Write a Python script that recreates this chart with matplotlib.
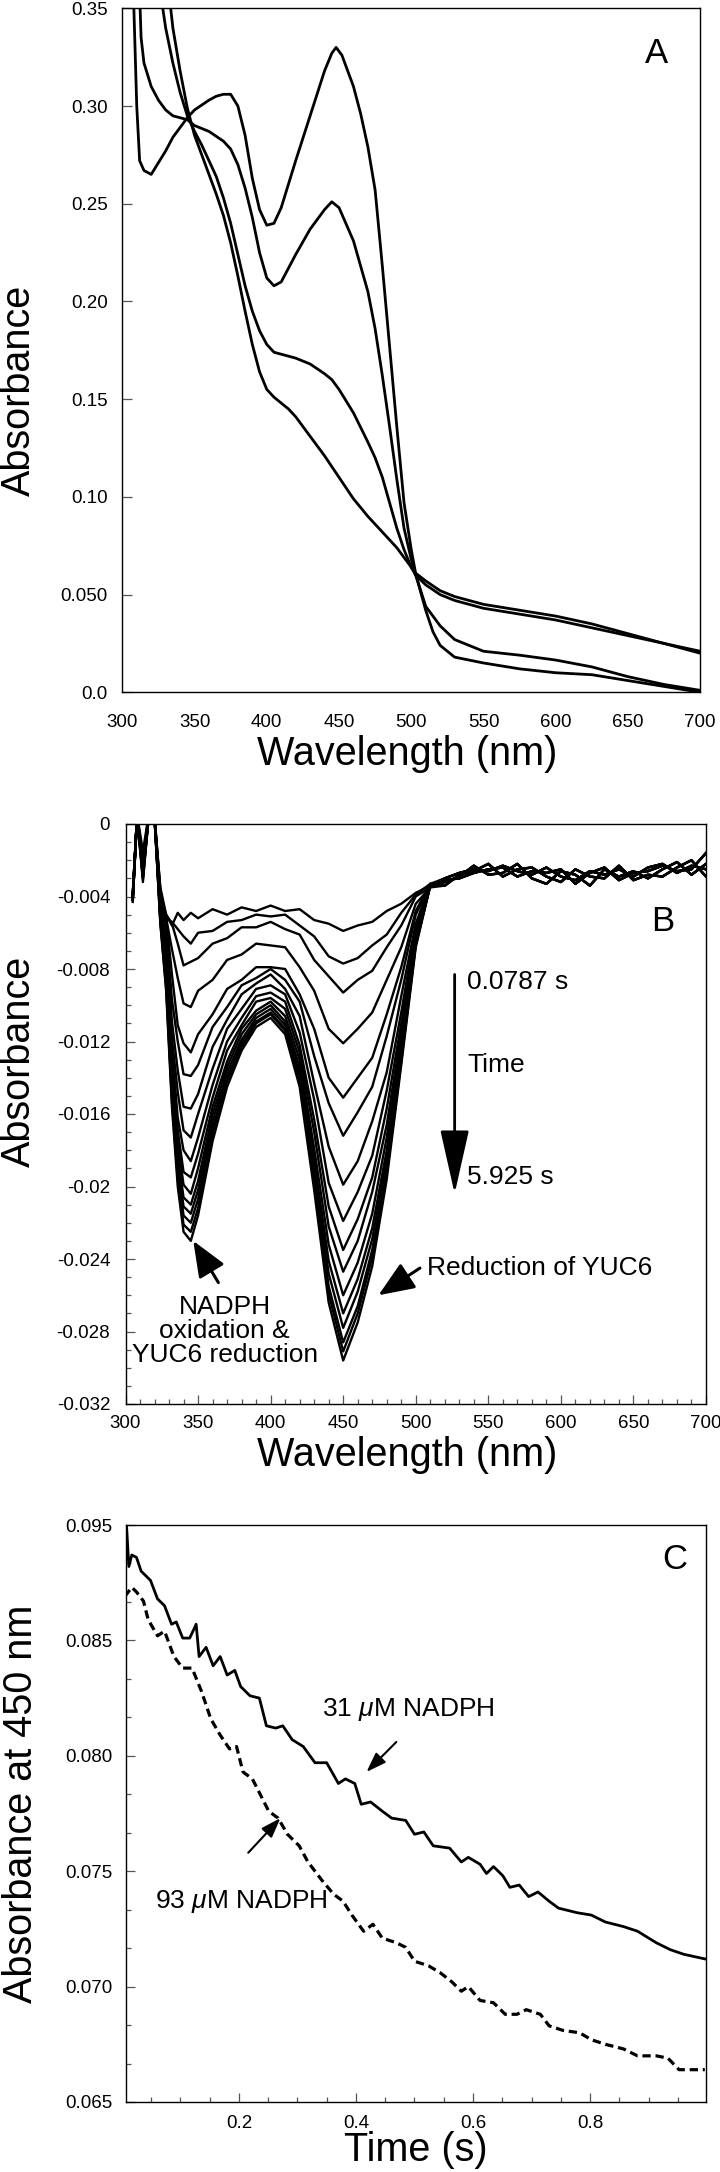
import numpy as np
import matplotlib.pyplot as plt
from matplotlib.ticker import MultipleLocator, FixedLocator, FixedFormatter, AutoMinorLocator, FuncFormatter

plt.rcParams['font.family'] = ['Liberation Sans', 'DejaVu Sans']
plt.rcParams['mathtext.fontset'] = 'custom'
plt.rcParams['mathtext.rm'] = 'Liberation Sans'
plt.rcParams['mathtext.it'] = 'Liberation Sans:italic'
plt.rcParams['axes.unicode_minus'] = False

# ---- panel A: static spectra (absorbance vs wavelength) ----
wl_a1 = [305, 308, 310, 312, 315, 320, 325, 330, 335, 340, 345, 350, 360, 365, 370, 375, 380, 385, 390, 395,
         400, 405, 410, 420, 430, 440, 445, 448, 452, 460, 465, 470, 475, 480, 485, 490, 495, 500, 503, 507,
         510, 515, 520, 530, 550, 575, 600, 625, 650, 675, 700]
abs_a1 = [0.45, 0.35, 0.300, 0.272, 0.267, 0.265, 0.271, 0.277, 0.284, 0.289, 0.294, 0.298, 0.303, 0.305, 0.306,
          0.306, 0.300, 0.285, 0.263, 0.247, 0.239, 0.240, 0.248, 0.272, 0.295, 0.318, 0.327, 0.330, 0.326, 0.310,
          0.296, 0.279, 0.257, 0.218, 0.177, 0.136, 0.097, 0.073, 0.061, 0.050, 0.042, 0.031, 0.024, 0.018, 0.015,
          0.012, 0.010, 0.009, 0.006, 0.003, 0.000]

wl_a2 = [311, 313, 315, 320, 325, 330, 335, 340, 345, 350, 360, 370, 375, 380, 385, 390, 395, 400, 405, 410,
         420, 430, 440, 445, 450, 460, 470, 475, 480, 485, 490, 495, 500, 503, 507, 510, 520, 530, 550, 575,
         600, 625, 650, 675, 700]
abs_a2 = [0.38, 0.335, 0.322, 0.310, 0.303, 0.298, 0.295, 0.294, 0.293, 0.290, 0.287, 0.282, 0.278, 0.270, 0.258,
          0.243, 0.225, 0.212, 0.208, 0.210, 0.224, 0.237, 0.247, 0.251, 0.248, 0.231, 0.205, 0.186, 0.162, 0.136,
          0.109, 0.084, 0.068, 0.060, 0.051, 0.044, 0.034, 0.027, 0.021, 0.019, 0.0165, 0.013, 0.008, 0.004, 0.001]

wl_a3 = [326, 330, 335, 340, 345, 350, 355, 360, 365, 370, 375, 380, 385, 390, 395, 400, 405, 410, 415, 420,
         430, 440, 445, 450, 460, 470, 475, 480, 485, 490, 495, 500, 503, 510, 520, 530, 550, 575, 600, 625,
         650, 675, 700]
abs_a3 = [0.36, 0.340, 0.322, 0.307, 0.295, 0.287, 0.280, 0.272, 0.264, 0.253, 0.240, 0.224, 0.208, 0.195, 0.185,
          0.178, 0.174, 0.173, 0.172, 0.171, 0.168, 0.163, 0.160, 0.155, 0.143, 0.128, 0.120, 0.110, 0.097, 0.084,
          0.073, 0.064, 0.060, 0.055, 0.050, 0.047, 0.043, 0.040, 0.037, 0.033, 0.029, 0.025, 0.021]

wl_a4 = [332, 335, 340, 345, 350, 355, 360, 365, 370, 375, 380, 385, 390, 395, 400, 405, 410, 415, 420, 430,
         440, 450, 460, 470, 480, 490, 500, 503, 510, 520, 530, 550, 575, 600, 625, 650, 675, 700]
abs_a4 = [0.36, 0.340, 0.318, 0.299, 0.285, 0.275, 0.265, 0.255, 0.244, 0.230, 0.213, 0.195, 0.178, 0.164, 0.155,
          0.151, 0.148, 0.145, 0.141, 0.131, 0.121, 0.110, 0.099, 0.090, 0.082, 0.074, 0.064, 0.061, 0.057, 0.052,
          0.049, 0.045, 0.042, 0.039, 0.035, 0.030, 0.025, 0.020]

a_yticks = [0.0, 0.05, 0.10, 0.15, 0.20, 0.25, 0.30, 0.35]
a_ylabels = ['0.0', '0.050', '0.10', '0.15', '0.20', '0.25', '0.30', '0.35']

# ---- panel B: difference spectra, 0.0787 s -> 5.925 s (values in milli-absorbance) ----
wl_b = [305, 308, 312, 316, 320, 324, 328, 332, 336, 340, 345, 350, 360, 370, 380, 390, 400, 410, 420, 430,
        440, 450, 460, 470, 480, 490, 500, 510]
wl_b_tail = [520, 530, 540, 550, 560, 570, 580, 590, 600, 610, 620, 630, 640, 650, 660, 670, 680, 690, 700]

b_traces = [
    [-4.1, 0.5, -2.0, 0.5, 0.3, -3.5, -5.0, -5.6, -4.9, -5.3, -4.9, -5.2, -4.7, -5.0, -4.6, -4.8, -4.5, -4.8, -4.7, -5.3, -5.5, -5.9, -5.6, -5.4, -4.8, -4.4, -3.8, -3.4],
    [-4.0, 0.5, -3.0, 0.4, 0.5, -3.8, -5.2, -5.4, -5.8, -6.2, -6.6, -6.0, -5.9, -5.4, -5.3, -5.0, -5.1, -5.0, -5.6, -6.2, -7.3, -7.7, -7.4, -6.7, -6.1, -4.9, -3.9, -3.3],
    [-3.8, 0.5, -1.5, 0.5, 0.2, -4.0, -5.0, -5.5, -6.6, -7.8, -7.6, -7.4, -6.6, -6.3, -5.7, -5.7, -5.4, -5.8, -6.1, -7.5, -8.4, -9.3, -8.6, -8.1, -6.8, -5.6, -4.0, -3.5],
    [-4.2, 0.3, -2.5, 0.5, 0.4, -3.6, -5.2, -6.9, -8.5, -9.9, -10.1, -9.2, -8.6, -7.5, -7.2, -6.6, -6.7, -6.8, -7.9, -9.2, -11.3, -12.1, -11.3, -10.4, -8.6, -6.8, -4.4, -3.5],
    [-4.0, 0.5, -3.2, 0.5, 0.3, -3.9, -5.1, -8.3, -11.1, -12.1, -12.6, -11.6, -10.5, -9.1, -8.6, -7.9, -7.9, -8.0, -9.4, -11.3, -14.0, -15.1, -14.0, -12.9, -10.5, -7.9, -4.8, -3.3],
    [-4.3, 0.4, -2.2, 0.4, 0.5, -4.2, -5.6, -9.7, -12.0, -13.8, -13.9, -13.3, -11.2, -10.1, -8.9, -8.5, -8.0, -8.6, -9.8, -12.8, -15.4, -17.2, -15.9, -14.5, -11.7, -8.6, -5.0, -3.4],
    [-3.9, 0.5, -2.8, 0.3, 0.4, -4.4, -6.3, -10.9, -13.6, -15.6, -15.7, -14.9, -12.3, -10.8, -9.4, -8.8, -8.3, -9.1, -10.6, -14.3, -17.8, -19.9, -18.6, -16.4, -13.7, -9.5, -5.5, -3.3],
    [-4.1, 0.5, -2.0, 0.5, 0.3, -4.5, -6.9, -11.8, -14.8, -16.9, -17.3, -16.0, -13.5, -11.3, -10.2, -9.1, -8.9, -9.4, -11.5, -15.2, -19.8, -21.9, -20.3, -18.3, -14.7, -10.4, -5.7, -3.4],
    [-4.0, 0.3, -3.0, 0.5, 0.5, -4.6, -7.4, -12.4, -16.2, -18.0, -18.6, -17.3, -14.4, -12.0, -10.7, -9.5, -9.3, -9.8, -12.2, -16.3, -21.1, -23.5, -21.8, -19.5, -15.7, -11.0, -5.9, -3.4],
    [-4.2, 0.5, -2.4, 0.4, 0.3, -4.8, -7.8, -13.3, -16.9, -19.2, -19.5, -18.2, -15.1, -12.5, -11.1, -9.8, -9.6, -10.2, -12.6, -17.0, -22.2, -24.7, -23.0, -20.3, -16.6, -11.5, -6.1, -3.4],
    [-3.9, 0.4, -2.6, 0.5, 0.4, -5.0, -8.1, -13.9, -17.6, -19.9, -20.4, -19.0, -15.6, -13.1, -11.3, -10.3, -9.8, -10.6, -13.0, -17.9, -23.2, -26.0, -24.2, -21.5, -17.3, -11.9, -6.2, -3.4],
    [-4.1, 0.5, -2.2, 0.4, 0.5, -5.1, -8.4, -14.3, -18.3, -20.6, -21.0, -19.7, -16.0, -13.4, -11.6, -10.5, -10.0, -10.9, -13.4, -18.5, -24.1, -27.0, -25.1, -22.3, -18.0, -12.3, -6.4, -3.4],
    [-4.0, 0.5, -2.9, 0.5, 0.3, -5.2, -8.6, -14.6, -18.7, -21.1, -21.5, -20.2, -16.4, -13.7, -11.9, -10.7, -10.2, -11.1, -13.7, -19.0, -24.8, -27.8, -25.8, -22.9, -18.5, -12.6, -6.5, -3.4],
    [-4.2, 0.4, -2.3, 0.5, 0.5, -5.3, -8.8, -15.0, -19.1, -21.6, -22.0, -20.7, -16.8, -14.0, -12.1, -10.9, -10.4, -11.3, -14.0, -19.5, -25.5, -28.6, -26.6, -23.5, -19.0, -12.9, -6.6, -3.4],
    [-3.9, 0.5, -2.6, 0.5, 0.3, -5.4, -9.0, -15.3, -19.6, -22.1, -22.5, -21.2, -17.1, -14.2, -12.3, -11.0, -10.5, -11.4, -14.2, -19.8, -25.9, -29.1, -27.0, -23.9, -19.3, -13.1, -6.7, -3.4],
    [-4.1, 0.5, -2.1, 0.5, 0.4, -5.5, -9.2, -15.6, -20.0, -22.5, -23.0, -21.6, -17.5, -14.5, -12.5, -11.2, -10.7, -11.6, -14.5, -20.2, -26.4, -29.6, -27.5, -24.4, -19.6, -13.3, -6.8, -3.4],
]
b_tails = [
    [-3.0, -2.7, -2.5, -2.6, -2.3, -2.6, -2.8, -2.4, -2.9, -3.1, -2.6, -2.8, -2.5, -2.9, -2.4, -2.2, -2.7, -2.3, -2.5],
    [-3.2, -2.9, -2.3, -2.8, -2.7, -2.2, -3.0, -3.3, -2.6, -2.8, -3.4, -2.5, -2.9, -2.6, -3.0, -2.5, -2.1, -2.8, -2.2],
    [-3.4, -2.8, -2.6, -2.2, -2.9, -2.5, -2.4, -2.9, -3.2, -2.5, -2.9, -3.0, -2.3, -3.1, -2.8, -2.9, -2.4, -2.0, -2.9],
    [-3.1, -3.0, -2.7, -2.5, -2.4, -2.9, -2.6, -2.7, -2.5, -3.3, -2.7, -2.4, -3.1, -2.7, -2.6, -2.3, -2.6, -2.5, -1.6],
]

# ---- panel C: absorbance at 450 nm vs time ----
t_31 = [0.005, 0.008, 0.012, 0.017, 0.025, 0.033, 0.049, 0.061, 0.073, 0.085, 0.093,
        0.104, 0.116, 0.127, 0.132, 0.144, 0.156, 0.168, 0.180, 0.193, 0.203,
        0.219, 0.235, 0.247, 0.263, 0.275, 0.291, 0.310, 0.330, 0.350, 0.370,
        0.382, 0.398, 0.409, 0.425, 0.445, 0.461, 0.485, 0.500, 0.516, 0.532,
        0.560, 0.580, 0.592, 0.612, 0.623, 0.635, 0.651, 0.663, 0.679, 0.695,
        0.711, 0.730, 0.746, 0.778, 0.802, 0.826, 0.857, 0.881, 0.913, 0.937,
        0.960, 0.996]
a_31 = [0.0880, 0.0900, 0.0882, 0.0887, 0.0886, 0.0880, 0.0876, 0.0868, 0.0865, 0.0857, 0.0858,
        0.0851, 0.0851, 0.0857, 0.0843, 0.0847, 0.0839, 0.0843, 0.0835, 0.0837, 0.0830,
        0.0826, 0.0825, 0.0813, 0.0812, 0.0813, 0.0807, 0.0804, 0.0797, 0.0797, 0.0788,
        0.0790, 0.0788, 0.0779, 0.0780, 0.0776, 0.0773, 0.0772, 0.0766, 0.0767, 0.0761,
        0.0760, 0.0754, 0.0756, 0.0753, 0.0749, 0.0752, 0.0748, 0.0743, 0.0744, 0.0739,
        0.0741, 0.0737, 0.0734, 0.0732, 0.0731, 0.0728, 0.0726, 0.0724, 0.0719, 0.0716,
        0.0714, 0.0712]

t_93 = [0.005, 0.017, 0.025, 0.037, 0.045, 0.061, 0.073, 0.089, 0.104, 0.120,
        0.136, 0.152, 0.168, 0.184, 0.196, 0.207, 0.223, 0.235, 0.251, 0.267,
        0.283, 0.303, 0.318, 0.342, 0.362, 0.378, 0.393, 0.413, 0.429, 0.445,
        0.469, 0.485, 0.500, 0.524, 0.544, 0.564, 0.580, 0.592, 0.612, 0.635,
        0.655, 0.675, 0.691, 0.715, 0.730, 0.754, 0.782, 0.802, 0.826, 0.857,
        0.881, 0.913, 0.933, 0.952, 0.996]
a_93 = [0.0869, 0.0873, 0.0871, 0.0867, 0.0859, 0.0852, 0.0854, 0.0843, 0.0838, 0.0838,
        0.0828, 0.0816, 0.0809, 0.0803, 0.0804, 0.0793, 0.0790, 0.0784, 0.0776, 0.0773,
        0.0766, 0.0761, 0.0754, 0.0746, 0.0740, 0.0737, 0.0731, 0.0724, 0.0727, 0.0721,
        0.0719, 0.0717, 0.0711, 0.0709, 0.0706, 0.0702, 0.0698, 0.0700, 0.0694, 0.0693,
        0.0688, 0.0688, 0.0690, 0.0688, 0.0683, 0.0681, 0.0680, 0.0677, 0.0675, 0.0673,
        0.0670, 0.0670, 0.0669, 0.0664, 0.0664]

c_yticks = [0.065, 0.070, 0.075, 0.080, 0.085, 0.090]
c_ylabels = ['0.065', '0.070', '0.075', '0.080', '0.085', '0.095']
c_xticks = [0.2, 0.4, 0.6, 0.8]


W, H = 720, 2172


def box(l, t, r, b):
    return [l / W, 1 - b / H, (r - l) / W, (b - t) / H]


fig = plt.figure(figsize=(7.2, 21.72), dpi=100)
axA = fig.add_axes(box(122.3, 8.3, 700.2, 692.3))
axB = fig.add_axes(box(125.5, 824, 706, 1404))
axC = fig.add_axes(box(126.5, 1525, 706, 2102))

for ax in (axA, axB, axC):
    for s in ax.spines.values():
        s.set_linewidth(1.0)
    ax.tick_params(which='both', direction='in', color='#555', width=0.9, labelsize=13.5)

# panel A
for wl, ab in [(wl_a1, abs_a1), (wl_a2, abs_a2), (wl_a3, abs_a3), (wl_a4, abs_a4)]:
    axA.plot(wl, ab, color='k', lw=2.0)
axA.set_xlim(300, 700)
axA.set_ylim(0, 0.35)
axA.xaxis.set_major_locator(MultipleLocator(50))
axA.yaxis.set_major_locator(FixedLocator(a_yticks))
axA.yaxis.set_major_formatter(FixedFormatter(a_ylabels))
axA.tick_params(axis='x', length=0, pad=15.5)
axA.tick_params(axis='y', length=7, pad=10.5)
axA.text(670, 0.327, 'A', fontsize=25, ha='center', va='center')

# panel B
for i, tr in enumerate(b_traces):
    y = np.array(tr + b_tails[i % 4]) / 1000.0
    axB.plot(wl_b + wl_b_tail, y, color='k', lw=1.7)
axB.set_xlim(300, 700)
axB.set_ylim(-0.032, 0)
axB.xaxis.set_major_locator(MultipleLocator(50))
axB.xaxis.set_minor_locator(MultipleLocator(10))
axB.yaxis.set_major_locator(MultipleLocator(0.004))
axB.yaxis.set_minor_locator(MultipleLocator(0.001))
axB.yaxis.set_major_formatter(FuncFormatter(lambda v, p: '0' if abs(v) < 1e-9 else f'{v:.3f}'.rstrip('0')))
axB.tick_params(which='major', length=6.5)
axB.tick_params(which='minor', length=3.5)
axB.tick_params(axis='x', pad=8)
axB.tick_params(axis='y', pad=11)
axB.text(670, -0.0054, 'B', fontsize=25, ha='center', va='center')

axB.annotate('', xy=(526.8, -0.0204), xytext=(526.8, -0.0083),
             arrowprops=dict(arrowstyle='-|>,head_length=2.0,head_width=0.45', lw=2, color='k',
                             mutation_scale=20, shrinkA=0, shrinkB=0))
axB.text(535.3, -0.0087, '0.0787 s', fontsize=19, ha='left', va='center')
axB.text(535.3, -0.0133, 'Time', fontsize=19, ha='left', va='center')
axB.text(535.3, -0.0195, '5.925 s', fontsize=19, ha='left', va='center')

axB.annotate('', xy=(474.3, -0.0260), xytext=(502.9, -0.0245),
             arrowprops=dict(arrowstyle='-|>,head_length=1.1,head_width=0.45', lw=2.2, color='k',
                             mutation_scale=20, shrinkA=0, shrinkB=0))
axB.text(507.7, -0.0245, 'Reduction of YUC6', fontsize=19, ha='left', va='center')

axB.annotate('', xy=(346.7, -0.0230), xytext=(364.0, -0.0253),
             arrowprops=dict(arrowstyle='-|>,head_length=1.1,head_width=0.45', lw=2.2, color='k',
                             mutation_scale=20, shrinkA=0, shrinkB=0))
axB.text(368.4, -0.0280, 'NADPH\noxidation &\nYUC6 reduction', fontsize=19, ha='center', va='center',
         linespacing=1.0)

# panel C
axC.plot(t_31, a_31, color='k', lw=2.0)
axC.plot(t_93, a_93, color='k', lw=2.3, linestyle=(0, (2.6, 1.5)))
axC.set_xlim(0.008, 0.998)
axC.set_ylim(0.065, 0.090)
axC.xaxis.set_major_locator(FixedLocator(c_xticks))
axC.xaxis.set_minor_locator(MultipleLocator(0.05))
axC.yaxis.set_major_locator(FixedLocator(c_yticks))
axC.yaxis.set_major_formatter(FixedFormatter(c_ylabels))
axC.yaxis.set_minor_locator(AutoMinorLocator(3))
axC.tick_params(which='major', length=6.5)
axC.tick_params(which='minor', length=3.5)
axC.tick_params(axis='x', pad=9)
axC.tick_params(axis='y', pad=10)
axC.text(0.945, 0.0885, 'C', fontsize=25, ha='center', va='center')

axC.text(0.49, 0.0820, '31 $\\mu$M NADPH', fontsize=19, ha='center', va='center')
axC.annotate('', xy=(0.418, 0.0793), xytext=(0.469, 0.0806),
             arrowprops=dict(arrowstyle='-|>,head_length=1.0,head_width=0.35', lw=1.5, color='k',
                             mutation_scale=12, shrinkA=0, shrinkB=0))
axC.text(0.204, 0.0737, '93 $\\mu$M NADPH', fontsize=19, ha='center', va='center')
axC.annotate('', xy=(0.271, 0.0773), xytext=(0.216, 0.0758),
             arrowprops=dict(arrowstyle='-|>,head_length=1.0,head_width=0.35', lw=1.5, color='k',
                             mutation_scale=12, shrinkA=0, shrinkB=0))

# axis titles
fig.text(19 / W, 1 - 390 / H, 'Absorbance', rotation=90, ha='center', va='center', fontsize=28.5)
fig.text(407 / W, 1 - 754 / H, 'Wavelength (nm)', ha='center', va='center', fontsize=28.5)
fig.text(19 / W, 1 - 1061 / H, 'Absorbance', rotation=90, ha='center', va='center', fontsize=28.5)
fig.text(407 / W, 1 - 1455 / H, 'Wavelength (nm)', ha='center', va='center', fontsize=28.5)
fig.text(21 / W, 1 - 1804 / H, 'Absorbance at 450 nm', rotation=90, ha='center', va='center', fontsize=28.5)
fig.text(416 / W, 1 - 2150 / H, 'Time (s)', ha='center', va='center', fontsize=28.5)

fig.savefig('out.png', dpi=100)
